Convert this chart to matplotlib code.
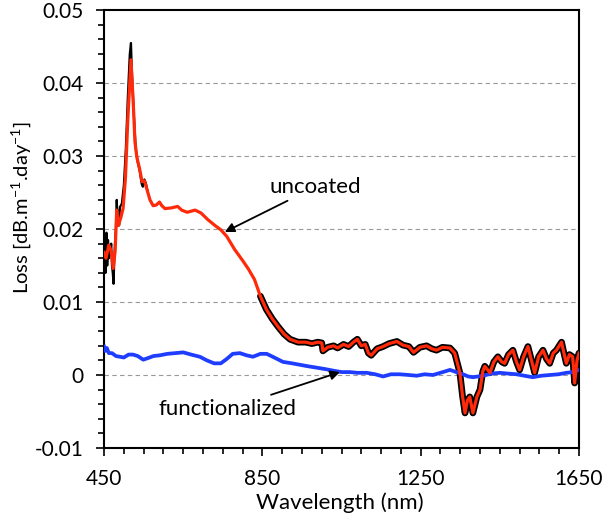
import numpy as np
import matplotlib
matplotlib.use("Agg")
import matplotlib.pyplot as plt
from matplotlib.ticker import MultipleLocator

plt.rcParams['font.family'] = ['Lato', 'DejaVu Sans']
plt.rcParams['mathtext.default'] = 'regular'
plt.rcParams['axes.unicode_minus'] = False

########## Data ##########

# uncoated (smoothed, red)
wl_uncoated = [450, 455, 462, 468, 473, 478, 482, 486, 492, 498, 504, 510, 518, 524, 528,
               533, 540, 546, 552, 558, 566, 574, 582, 590, 596, 604, 620, 636, 646, 660,
               680, 695, 712, 730, 745, 760, 780, 800, 815, 830, 845, 860, 875, 890, 905,
               920, 940, 960, 975, 990, 1000, 1003, 1015, 1030, 1040, 1055, 1068, 1080,
               1090, 1100, 1110, 1118, 1125, 1140, 1155, 1170, 1190, 1205, 1220, 1232,
               1248, 1265, 1278, 1290, 1305, 1324, 1336, 1349, 1356, 1362, 1368, 1374,
               1382, 1392, 1400, 1407, 1412, 1425, 1435, 1445, 1455, 1462, 1472, 1483,
               1492, 1500, 1510, 1521, 1530, 1538, 1548, 1559, 1568, 1576, 1585, 1593,
               1600, 1606, 1612, 1618, 1626, 1634, 1639, 1645, 1650]
loss_uncoated = [0.0168, 0.0160, 0.0178, 0.0170, 0.0146, 0.0170, 0.0226, 0.0205, 0.0215,
                 0.0228, 0.0270, 0.0350, 0.0432, 0.0370, 0.0320, 0.0298, 0.0282, 0.0265,
                 0.0266, 0.0255, 0.0240, 0.0232, 0.0233, 0.0237, 0.0232, 0.0228, 0.0229,
                 0.0231, 0.0226, 0.0223, 0.0226, 0.0222, 0.0213, 0.0205, 0.0199, 0.0190,
                 0.0172, 0.0157, 0.0145, 0.0131, 0.0108, 0.0090, 0.0077, 0.0066, 0.0056,
                 0.0049, 0.0045, 0.0045, 0.0043, 0.0045, 0.0044, 0.0033, 0.0038, 0.0040,
                 0.0037, 0.0042, 0.0039, 0.0045, 0.0049, 0.0040, 0.0042, 0.0030, 0.0027,
                 0.0036, 0.0039, 0.0043, 0.0046, 0.0041, 0.0039, 0.0031, 0.0038, 0.0040,
                 0.0036, 0.0034, 0.0038, 0.0037, 0.0030, 0.0003, -0.0030, -0.0052, -0.0035,
                 -0.0030, -0.0052, -0.0030, -0.0020, 0.0005, 0.0012, 0.0003, 0.0018, 0.0025,
                 0.0018, 0.0016, 0.0028, 0.0034, 0.0018, 0.0007, 0.0025, 0.0039, 0.0020,
                 0.0003, 0.0025, 0.0034, 0.0022, 0.0016, 0.0030, 0.0034, 0.0040, 0.0045,
                 0.0030, 0.0016, 0.0028, 0.0025, -0.0011, 0.0020, 0.0030]

# uncoated raw trace at the short-wavelength end (black, noisy)
wl_raw = [450, 452, 454, 456, 458, 460, 462, 464, 466, 468, 470, 472, 474, 476, 478,
          480, 482, 484, 486, 488, 490, 495, 500, 505, 510, 515, 518, 520, 525, 530,
          535, 540, 545, 548, 552, 556, 560]
loss_raw = [0.0170, 0.0190, 0.0140, 0.0195, 0.0150, 0.0185, 0.0160, 0.0175, 0.0165,
            0.0180, 0.0150, 0.0140, 0.0125, 0.0160, 0.0185, 0.0200, 0.0240, 0.0215,
            0.0225, 0.0205, 0.0230, 0.0235, 0.0260, 0.0310, 0.0380, 0.0440, 0.0455,
            0.0420, 0.0360, 0.0310, 0.0292, 0.0280, 0.0262, 0.0258, 0.0268, 0.0262,
            0.0252]

# functionalized (blue)
wl_func = [450, 453, 457, 462, 470, 480, 490, 500, 512, 523, 535, 549, 560, 575, 591,
           610, 630, 650, 670, 692, 710, 728, 745, 760, 775, 793, 810, 826, 845, 861,
           880, 902, 925, 945, 965, 988, 1010, 1029, 1050, 1071, 1090, 1114, 1135, 1155,
           1175, 1197, 1220, 1240, 1260, 1281, 1306, 1324, 1340, 1357, 1370, 1382, 1395,
           1407, 1430, 1450, 1470, 1492, 1512, 1533, 1555, 1576, 1598, 1618, 1635, 1650]
loss_func = [0.0039, 0.0033, 0.0037, 0.0030, 0.0030, 0.0026, 0.0025, 0.0024, 0.0028,
             0.0028, 0.0026, 0.0021, 0.0023, 0.0026, 0.0027, 0.0029, 0.0030, 0.0031,
             0.0028, 0.0025, 0.0020, 0.0016, 0.0016, 0.0022, 0.0029, 0.0030, 0.0027,
             0.0025, 0.0029, 0.0029, 0.0024, 0.0018, 0.0016, 0.0014, 0.0012, 0.0010,
             0.0008, 0.0006, 0.0004, 0.0004, 0.0003, 0.0003, 0.0001, -0.0002, 0.0001,
             0.0001, 0.0000, -0.0001, 0.0001, 0.0000, 0.0004, 0.0007, 0.0004, 0.0001,
             -0.0002, -0.0003, -0.0002, -0.0001, 0.0002, 0.0003, 0.0002, 0.0001, -0.0001,
             -0.0003, -0.0001, 0.0000, 0.0001, 0.0003, 0.0004, 0.0007]

x_ticks = [450, 850, 1250, 1650]
y_ticks = [-0.01, 0, 0.01, 0.02, 0.03, 0.04, 0.05]
y_ticklabels = ["-0.01", "0", "0.01", "0.02", "0.03", "0.04", "0.05"]


########## Plot ##########

fig = plt.figure(figsize=(6.05, 5.2), dpi=100)
ax = fig.add_axes([0.172, 0.1385, 0.785, 0.842])

# black noisy band is only visible beyond ~840 nm
wl_u = np.array(wl_uncoated)
loss_u = np.array(loss_uncoated)
band = wl_u >= 840
ax.plot(wl_u[band], loss_u[band], color="black", lw=4.8, solid_capstyle="round", zorder=2)
ax.plot(wl_raw, loss_raw, color="black", lw=1.6, zorder=2)
ax.plot(wl_func, loss_func, color="#1f3dff", lw=2.7, zorder=3)
ax.plot(wl_u, loss_u, color="#ff2a0a", lw=2.3, zorder=4)

ax.set_xlim(450, 1650)
ax.set_ylim(-0.01, 0.05)
ax.set_xticks(x_ticks)
ax.xaxis.set_minor_locator(MultipleLocator(50))
ax.set_yticks(y_ticks)
ax.set_yticklabels(y_ticklabels)
ax.yaxis.set_minor_locator(MultipleLocator(0.002))

for y in [0, 0.01, 0.02, 0.03, 0.04]:
    ax.axhline(y, color="#999999", lw=0.8, ls=(0, (4, 3)), zorder=1)

ax.tick_params(axis="both", which="major", direction="out", length=6, width=1.2,
               labelsize=15)
ax.tick_params(axis="both", which="minor", direction="out", length=4, width=1.2)
ax.tick_params(axis="y", which="major", pad=9)
ax.tick_params(axis="x", which="major", pad=9)
for s in ax.spines.values():
    s.set_linewidth(1.5)

ax.set_xlabel("Wavelength (nm)", fontsize=16)
ax.xaxis.set_label_coords(0.497, -0.102)
ax.set_ylabel("Loss [dB.m$^{-1}$.day$^{-1}$]", fontsize=14.5)
ax.yaxis.set_label_coords(-0.15, 0.55)

ax.annotate("uncoated", xy=(755, 0.0196), xytext=(869, 0.0258), fontsize=16,
            va="center", ha="left",
            arrowprops=dict(arrowstyle="-|>", color="black", lw=1.3,
                            mutation_scale=14, shrinkA=2, shrinkB=0))
ax.annotate("functionalized", xy=(1046, 0.0004), xytext=(935, -0.0047), fontsize=16,
            va="center", ha="right",
            arrowprops=dict(arrowstyle="-|>", color="black", lw=1.3,
                            mutation_scale=14, shrinkA=4, shrinkB=0))

fig.savefig("out.png", dpi=100)
